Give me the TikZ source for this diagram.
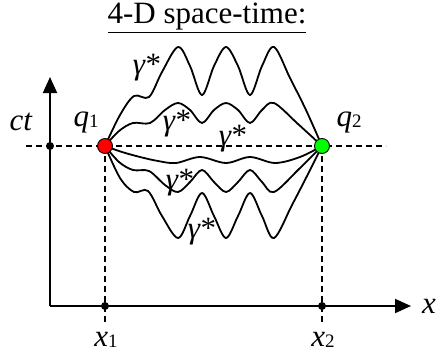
\documentclass[tikz,border=0pt]{standalone}
\usepackage{fontspec}
\setmainfont{Liberation Serif}
\usetikzlibrary{arrows.meta}

\tikzset{
	axisline/.style={line width=2pt, -{Triangle[length=16pt,width=14pt]}},
	guide/.style={line width=1.8pt, dash pattern=on 6pt off 4pt},
	pathline/.style={line width=1.8pt, smooth, tension=0.55},
	tick/.style={circle, fill=black, inner sep=0pt, minimum size=8pt},
	charge/.style={circle, draw=black, line width=0.9pt, inner sep=0pt, minimum size=15pt},
	lbl/.style={font=\fontsize{31}{34}\selectfont, inner sep=0pt}
}
\newcommand{\sub}[1]{\raisebox{-1.5pt}{\fontsize{19}{19}\selectfont #1}}

\begin{document}
\begin{tikzpicture}[x=1pt, y=-1pt]
		
		\useasboundingbox (0,0) rectangle (436,354);
		
		% axes
		\coordinate (O) at (50,306);
		\coordinate (T) at (50,77);
		\coordinate (X) at (411,306);
		\draw[axisline] (O) -- (T);
		\draw[axisline] (O) -- (X);
		
		% dashed guides
		\coordinate (L) at (26,146);
		\coordinate (R) at (386,146);
		\coordinate (Q1) at (105,146);
		\coordinate (Q2) at (322,146);
		\coordinate (B1) at (105,323);
		\coordinate (B2) at (322,323);
		\draw[guide] (L) -- (R);
		\draw[guide] (Q1) -- (B1);
		\draw[guide] (Q2) -- (B2);
		
		% paths from q1 to q2
		\draw[pathline] plot coordinates {(Q1) (120,115) (134,96) (149,97) (162,72) (178,47) (190,66) (202,95) (214,66) (226,47) (238,66) (250,95) (262,66) (274,47) (290,78) (306,110) (Q2)};
		\draw[pathline] plot coordinates {(Q1) (119,131) (133,123) (150,123) (165,110) (178,103) (190,110) (202,123) (214,110) (226,103) (238,110) (250,123) (262,110) (274,103) (298,124) (Q2)};
		\draw[pathline] plot coordinates {(Q1) (122,152) (140,157) (158,161) (176,163) (200,157) (226,163) (250,157) (275,163) (300,157) (Q2)};
		\draw[pathline] plot coordinates {(Q1) (119,162) (133,170) (149,171) (165,185) (178,192) (190,182) (202,170) (214,182) (226,192) (238,182) (250,170) (262,182) (274,192) (299,169) (Q2)};
		\draw[pathline] plot coordinates {(Q1) (120,178) (134,192) (148,191) (162,216) (178,238) (190,216) (202,193) (214,216) (226,238) (238,216) (250,193) (262,216) (274,238) (292,205) (307,176) (Q2)};
		
		% points
		\node[tick] (ct0) at (50,146) {};
		\node[tick] (x1) at (105,306) {};
		\node[tick] (x2) at (322,306) {};
		\node[charge, fill=red] (q1) at (Q1) {};
		\node[charge, fill=green] (q2) at (Q2) {};
		
		% labels
		\node[lbl] (title) at (207,18) {\underline{4-D space-time:}};
		\node[lbl] at (21,122) {\textit{ct}};
		\node[lbl] at (86,122) {\textit{q}\sub{1}};
		\node[lbl] at (349,122) {\textit{q}\sub{2}};
		\node[lbl] at (429,306) {\textit{x}};
		\node[lbl] at (106,340) {\textit{x}\sub{1}};
		\node[lbl] at (323,340) {\textit{x}\sub{2}};
		
		\node[lbl] at (147,68) {\textit{γ}*};
		\node[lbl] at (177,124) {\textit{γ}*};
		\node[lbl] at (233,139) {\textit{γ}*};
		\node[lbl] at (180,183) {\textit{γ}*};
		\node[lbl] at (202,232) {\textit{γ}*};
		
	\end{tikzpicture}
\end{document}
